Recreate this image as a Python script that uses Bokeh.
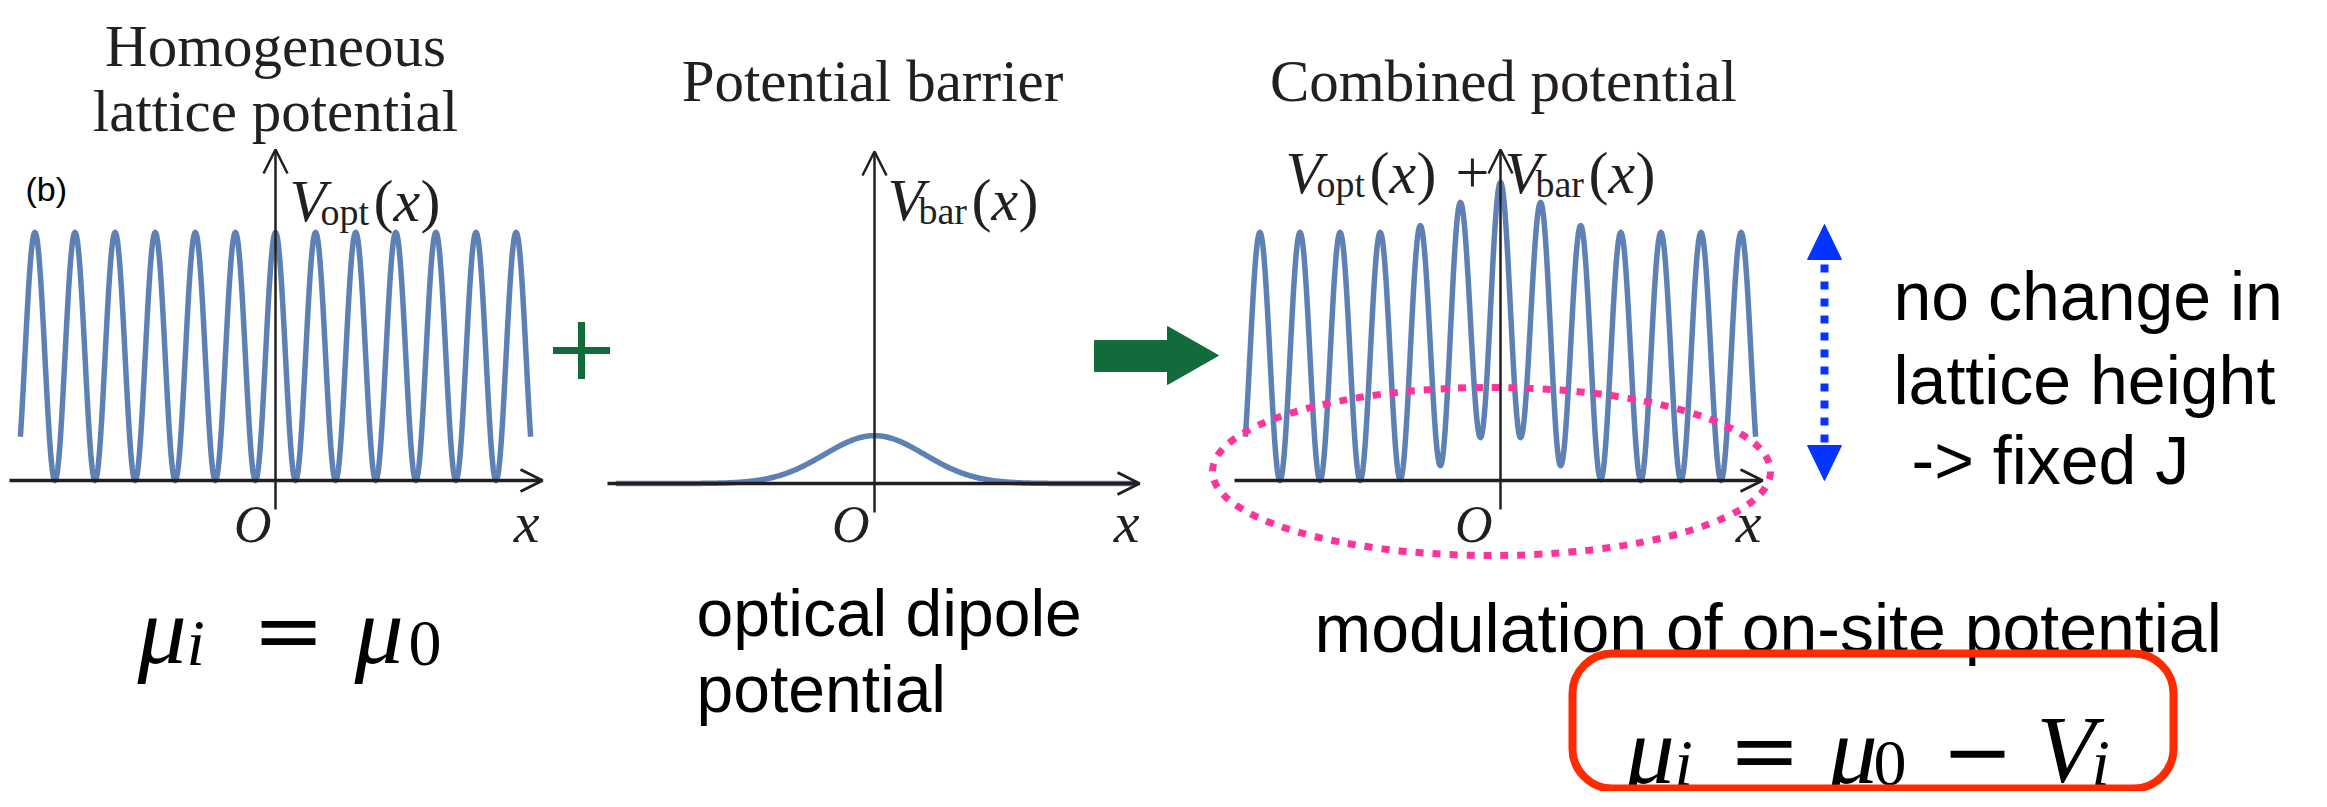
import numpy as np
from bokeh.plotting import figure
from bokeh.models import Range1d, Arrow, OpenHead
from bokeh.core.properties import value
from bokeh.embed import file_html
from bokeh.resources import INLINE

# ---------------- data ----------------
# lattice sites (maxima of the optical lattice), in units of the lattice spacing
PEAK_SITES = [-6, -5, -4, -3, -2, -1, 0, 1, 2, 3, 4, 5, 6]
TROUGH_SITES = [-6.5, -5.5, -4.5, -3.5, -2.5, -1.5, -0.5, 0.5, 1.5, 2.5, 3.5, 4.5, 5.5, 6.5]
# homogeneous lattice potential (units of lattice depth)
HOMO_PEAKS = [1.0, 1.0, 1.0, 1.0, 1.0, 1.0, 1.0, 1.0, 1.0, 1.0, 1.0, 1.0, 1.0]
HOMO_TROUGHS = [0.0, 0.0, 0.0, 0.0, 0.0, 0.0, 0.0, 0.0, 0.0, 0.0, 0.0, 0.0, 0.0, 0.0]
# combined potential V_opt + V_bar
COMB_PEAKS = [1.0, 1.0, 1.0, 1.0, 1.028, 1.121, 1.202, 1.121, 1.028, 1.0, 1.0, 1.0, 1.0]
COMB_TROUGHS = [0.0, 0.0, 0.0, 0.0, 0.004, 0.06, 0.173, 0.173, 0.06, 0.004, 0.0, 0.0, 0.0, 0.0]
CURVE_HALF_SPAN = 6.37          # extent of the drawn lattice curves (sites)
# potential barrier (optical dipole potential)
BARRIER_HEIGHT = 0.193
BARRIER_WIDTH = 1.25
BARRIER_HALF_SPAN = 6.45

# ---------------- styling / layout ----------------
W, H = 2311, 791
BLUE = "#5E81B5"
AXIS = "#231F20"
GREEN = "#116B3B"
PINK = "#FF3399"
ARROW_BLUE = "#0533FF"
RED = "#FF2A00"
SERIF = "Liberation Serif"
MATH_OP = "DejaVu Serif"
SANS = "Liberation Sans"

PERIOD_PX = 40.1
UNIT_PX = 248.0
PANELS = {"p1": (283, 488), "p2": (882, 491), "p3": (1508, 488)}


def fy(img_y):
    return 807 - img_y


p = figure(width=W, height=H, output_backend="svg", toolbar_location=None,
           x_axis_type=None, y_axis_type=None, min_border=0,
           x_range=Range1d(8, 2319), y_range=Range1d(8, 799))
p.outline_line_color = None
p.background_fill_color = "white"
p.border_fill_color = "white"

for name, (ax, base) in PANELS.items():
    p.extra_x_ranges[name] = Range1d((8 - ax) / PERIOD_PX, (2319 - ax) / PERIOD_PX)
    p.extra_y_ranges[name] = Range1d((base - 799) / UNIT_PX, (base - 8) / UNIT_PX)


def lattice_path(peaks, troughs, half_span, n=30):
    pts = sorted(zip(PEAK_SITES + TROUGH_SITES, peaks + troughs))
    xs, ys = [], []
    for (sa, va), (sb, vb) in zip(pts[:-1], pts[1:]):
        t = np.linspace(0, 1, n)
        s = sa + (sb - sa) * t
        v = va + (vb - va) * (1 - np.cos(np.pi * t)) / 2
        m = np.abs(s) <= half_span
        xs.extend(s[m].tolist())
        ys.extend(v[m].tolist())
    return xs, ys


# ---- curves ----
hx, hy = lattice_path(HOMO_PEAKS, HOMO_TROUGHS, CURVE_HALF_SPAN)
p.line(hx, hy, x_range_name="p1", y_range_name="p1", line_color=BLUE,
       line_width=5.5, line_join="round")

bs = np.linspace(-BARRIER_HALF_SPAN, BARRIER_HALF_SPAN, 500)
bv = BARRIER_HEIGHT * np.exp(-bs ** 2 / (2 * BARRIER_WIDTH ** 2))
p.line(bs, bv, x_range_name="p2", y_range_name="p2", line_color=BLUE,
       line_width=5.5, line_join="round")

cx, cy = lattice_path(COMB_PEAKS, COMB_TROUGHS, CURVE_HALF_SPAN)
p.line(cx, cy, x_range_name="p3", y_range_name="p3", line_color=BLUE,
       line_width=5.5, line_join="round")

# ---- axes (drawn as arrows) ----
AXIS_EXT = {"p1": (17, 550, 157, 517), "p2": (615, 1147, 159, 520), "p3": (1242, 1770, 157, 517)}
for name, (ax, base) in PANELS.items():
    xl, xr, ytop, ybot = AXIS_EXT[name]
    p.add_layout(Arrow(end=OpenHead(size=22, line_width=3, line_color=AXIS),
                       x_start=xl, y_start=fy(base), x_end=xr, y_end=fy(base),
                       line_width=3.3, line_color=AXIS))
    p.add_layout(Arrow(end=OpenHead(size=24, line_width=2.5, line_color=AXIS),
                       x_start=ax, y_start=fy(ybot), x_end=ax, y_end=fy(ytop),
                       line_width=2.5, line_color=AXIS))


def T(x, img_y, s, size, font=SERIF, style="normal", align="left", color="#231F20",
      baseline="alphabetic"):
    p.text(x=[x], y=[fy(img_y)], text=[s], text_font=value(font),
           text_font_size=value(f"{size}px"), text_font_style=value(style),
           text_align=value(align), text_baseline=value(baseline),
           text_color=value(color))


# ---- titles ----
T(283, 53, "Homogeneous", 59, align="center")
T(283, 118, "lattice potential", 59, align="center")
T(880, 88, "Potential barrier", 59, align="center")
T(1511, 88, "Combined potential", 59, align="center")
T(33, 196, "(b)", 34, font=SANS, color="#000000")


# ---- axis labels ----
def vlabel(x, base, sub):
    T(x, base, "V", 60, style="italic")
    T(x + 31, base + 11, sub, 38)
    T(x + 84, base, "(", 60)
    T(x + 104, base, "x", 60, style="italic")
    T(x + 131, base, ")", 60)


vlabel(297, 208, "opt")
vlabel(895, 207, "bar")
vlabel(1293, 180, "opt")
T(1463, 180, "+", 60)
vlabel(1512, 180, "bar")

for xo, xx in [(279, 547), (877, 1147), (1500, 1769)]:
    T(xo, 532, "O", 52, style="italic", align="right")
    T(xx, 530, "x", 58, style="italic", align="right")

# ---- plus sign and green arrow ----
p.scatter(x=[589], y=[fy(358)], marker="cross", size=57, line_color=GREEN,
          line_width=7)
p.patch(x=[1102, 1175, 1175, 1226, 1175, 1175, 1102],
        y=[fy(v) for v in [348, 348, 334, 363, 392, 379, 379]],
        fill_color=GREEN, line_color=GREEN)

# ---- pink dotted ellipse ----
p.ellipse(x=[1499], y=[fy(479)], width=[558], height=[168], fill_alpha=0,
          line_color=PINK, line_width=7, line_dash="8 9")

# ---- blue dotted double arrow ----
p.segment(x0=[1832], y0=[fy(272)], x1=[1832], y1=[fy(450)], line_color=ARROW_BLUE,
          line_width=8, line_dash="8 9")
p.patches(xs=[[1815, 1849, 1832], [1815, 1849, 1832]],
          ys=[[fy(267), fy(267), fy(232)], [fy(453), fy(453), fy(488)]],
          fill_color=ARROW_BLUE, line_color=ARROW_BLUE)

# ---- explanatory texts ----
T(1901, 303, "no change in", 68, font=SANS, color="#000000")
T(1901, 387, "lattice height", 68, font=SANS, color="#000000")
T(1919, 467, "-> fixed J", 68, font=SANS, color="#000000")
T(704, 620, "optical dipole", 66, font=SANS, color="#000000")
T(704, 696, "potential", 66, font=SANS, color="#000000")
T(1322, 635, "modulation of on-site potential", 68, font=SANS, color="#000000")

# ---- formulas ----
K = "#000000"
T(145, 637, "μ", 98, style="italic", color=K)
T(194, 650, "i", 66, style="italic", color=K)
T(296, 637, "=", 86, font=MATH_OP, align="center", color=K)
T(362, 637, "μ", 98, style="italic", color=K)
T(416, 651, "0", 66, color=K)

T(1633, 757, "μ", 98, style="italic", color=K)
T(1682, 770, "i", 66, style="italic", color=K)
T(1772, 757, "=", 86, font=MATH_OP, align="center", color=K)
T(1836, 757, "μ", 98, style="italic", color=K)
T(1881, 771, "0", 66, color=K)
T(1985, 757, "−", 86, font=MATH_OP, align="center", color=K)
T(2044, 757, "V", 96, style="italic", color=K)
T(2099, 770, "i", 66, style="italic", color=K)

p.quad(left=[1580], right=[2181], top=[fy(661)], bottom=[fy(796)], fill_alpha=0,
       line_color=RED, line_width=8, border_radius=40)

open("out.html", "w").write(file_html(p, INLINE))
